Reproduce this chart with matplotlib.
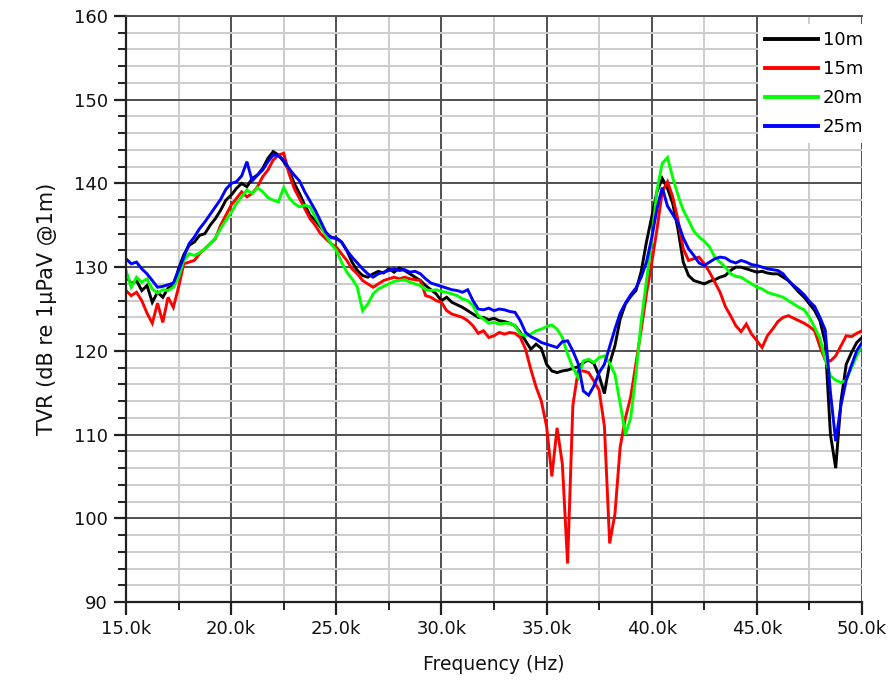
import numpy as np
import matplotlib
matplotlib.use("Agg")
import matplotlib.pyplot as plt
from matplotlib.ticker import MultipleLocator, FixedLocator

plt.rcParams['font.family'] = ['DejaVu Sans']

# frequency grid in kHz (0.25 kHz step)
freq_khz = np.arange(15.0, 50.0001, 0.25)

series_labels = ['10m', '15m', '20m', '25m']
series_colors = ['#000000', '#ff0000', '#00ff00', '#0000ff']

tvr_10m = [
    129.0, 128.0, 128.4, 127.2, 127.8, 125.8, 127.0, 126.4, 127.5, 127.8,
    129.8, 131.5, 132.6, 133.0, 133.8, 134.0, 135.0, 135.8, 136.8, 138.0,
    138.6, 139.4, 140.0, 139.6, 140.6, 141.0, 141.8, 143.0, 143.8, 143.4,
    142.6, 141.6, 140.0, 138.8, 137.4, 136.2, 135.6, 134.8, 134.0, 133.6,
    133.4, 133.0, 132.0, 130.6, 129.6, 129.0, 128.8, 129.2, 129.5, 129.3,
    129.8, 129.4, 129.9, 129.6, 129.2, 128.8, 128.4, 127.8, 127.3, 126.8,
    126.0, 126.4, 125.8, 125.5, 125.2, 124.8, 124.4, 124.0, 124.0, 123.7,
    123.9, 123.6, 123.5, 123.3, 123.0, 122.2, 121.2, 120.2, 120.8, 120.3,
    118.4, 117.6, 117.4, 117.6, 117.7, 117.9, 118.1, 118.6, 118.9, 118.5,
    117.0, 114.9, 118.5, 120.6, 123.8, 125.6, 126.5, 127.2, 129.5, 133.0,
    136.0, 139.0, 140.6, 139.4, 137.6, 134.5, 130.6, 129.0, 128.4, 128.2,
    128.0, 128.3, 128.5, 128.8, 129.0, 129.6, 130.0, 130.0, 129.8, 129.6,
    129.4, 129.5, 129.3, 129.2, 129.2, 128.8, 128.4, 127.7, 127.0, 126.4,
    125.6, 124.8, 123.6, 121.0, 110.0, 106.0, 114.0, 118.4, 119.8, 121.0,
    121.6]

tvr_15m = [
    127.2, 126.6, 127.0, 126.0, 124.5, 123.3, 125.7, 123.4, 126.4, 125.2,
    127.6, 130.4, 130.6, 130.8, 131.6, 132.2, 132.8, 133.4, 135.0, 136.2,
    137.4, 138.2, 139.0, 138.4, 138.8, 139.6, 140.8, 141.6, 142.8, 143.4,
    143.6, 141.2, 139.4, 138.2, 137.0, 135.8, 135.0, 134.0, 133.4, 132.8,
    132.4, 131.6, 130.8, 129.8, 129.2, 128.4, 128.0, 127.6, 128.0, 128.4,
    128.6, 128.8, 128.6, 128.8, 128.6, 128.5, 128.4, 126.6, 126.4, 126.0,
    125.8, 124.8, 124.4, 124.2, 124.0, 123.6, 123.0, 122.1, 122.4, 121.6,
    121.8, 122.2, 122.0, 122.2, 122.1, 121.6, 120.2, 117.8, 115.7, 114.0,
    111.0, 105.0, 110.8, 106.5, 94.6, 113.5, 117.6, 117.6, 117.4, 116.4,
    115.3, 111.0, 97.0, 100.5, 108.5, 112.0, 114.5, 118.5, 122.5, 126.8,
    130.5, 134.5, 139.0, 140.2, 138.4, 135.6, 132.2, 130.8, 131.0, 131.2,
    130.4, 129.4, 128.2, 127.0, 125.3, 124.2, 123.0, 122.3, 123.2, 122.0,
    121.2, 120.4, 121.8, 122.6, 123.5, 124.0, 124.2, 123.9, 123.6, 123.3,
    122.9, 122.4, 120.5, 118.9, 118.8, 119.4, 120.6, 121.8, 121.7, 122.1,
    122.4]

tvr_20m = [
    129.6, 127.6, 128.8, 128.2, 128.6, 127.4, 126.9, 127.3, 127.2, 127.6,
    128.8, 130.8, 131.6, 131.4, 131.7, 132.2, 132.8, 133.5, 134.6, 135.6,
    136.5, 137.6, 138.4, 139.2, 138.8, 139.5, 139.0, 138.3, 138.0, 137.8,
    139.5, 138.3, 137.6, 137.2, 137.4, 137.2, 136.0, 135.0, 133.8, 132.8,
    132.0, 130.6, 129.4, 128.6, 127.6, 124.8, 125.6, 126.8, 127.4, 127.7,
    128.0, 128.3, 128.4, 128.5, 128.2, 128.0, 127.8, 127.3, 127.2, 127.3,
    127.1, 127.0, 126.8, 126.6, 126.2, 126.0, 125.4, 124.2, 123.8, 123.3,
    123.4, 123.2, 123.3, 123.3, 123.0, 122.0, 121.8, 122.0, 122.4, 122.6,
    122.9, 123.1, 122.6, 121.6, 119.6, 118.0, 116.8, 118.8, 119.0, 118.6,
    119.2, 119.4, 118.5, 117.2, 113.7, 110.0, 112.0, 117.2, 123.5, 128.4,
    133.2, 139.2, 142.4, 143.1, 140.7, 138.6, 136.8, 135.6, 134.3, 133.6,
    133.1, 132.4, 131.2, 130.6, 130.0, 129.2, 128.9, 128.8, 128.4, 128.0,
    127.6, 127.4, 127.0, 126.8, 126.6, 126.4, 126.0, 125.6, 125.2, 124.9,
    124.0, 122.8, 121.5, 119.0, 117.0, 116.5, 116.2, 116.5, 118.0, 119.4,
    120.8]

tvr_25m = [
    131.0, 130.4, 130.6, 129.8, 129.2, 128.4, 127.6, 127.7, 127.9, 128.1,
    129.6, 131.2, 132.8, 133.6, 134.6, 135.4, 136.3, 137.2, 138.1, 139.3,
    140.0, 140.2, 140.9, 142.6, 140.3, 141.0, 141.6, 142.6, 143.4, 143.3,
    142.8, 141.8, 141.0, 140.3, 139.0, 137.9, 136.8, 135.5, 134.2, 133.5,
    133.5, 133.0, 132.0, 131.2, 130.5, 129.8, 129.2, 128.8, 129.2, 129.4,
    129.6, 129.8, 129.6, 129.7, 129.4, 129.5, 129.2, 128.6, 128.1, 127.9,
    127.7, 127.5, 127.3, 127.2, 127.0, 127.3, 126.0, 125.0, 124.9, 125.1,
    124.8, 125.0, 124.9, 124.7, 124.6, 123.6, 122.2, 121.7, 121.4, 121.0,
    120.8, 120.6, 120.4, 121.1, 121.2, 120.0, 118.5, 115.2, 114.7, 115.8,
    117.4, 118.4, 120.5, 122.6, 124.5, 125.7, 126.7, 127.5, 128.8, 130.6,
    133.5, 137.0, 139.5, 137.3, 136.3, 135.3, 133.5, 132.2, 131.4, 130.5,
    130.2, 130.6, 131.0, 131.2, 131.1, 130.7, 130.5, 130.8, 130.6, 130.3,
    130.2, 130.0, 129.8, 129.7, 129.6, 129.2, 128.4, 127.8, 127.3, 126.7,
    125.9, 125.3, 124.0, 122.5, 115.0, 109.2, 113.5, 116.5, 118.3, 120.0,
    121.0]

x_ticks = [15.0, 20.0, 25.0, 30.0, 35.0, 40.0, 45.0, 50.0]
x_ticklabels = ['15.0k', '20.0k', '25.0k', '30.0k', '35.0k', '40.0k', '45.0k', '50.0k']
y_ticks = [90, 100, 110, 120, 130, 140, 150, 160]

fig = plt.figure(figsize=(8.92, 6.89), dpi=100)
ax = fig.add_axes([126/892, 1-602/689, (862-126)/892, (602-16)/689])

for vals, lab, col in zip([tvr_10m, tvr_15m, tvr_20m, tvr_25m], series_labels, series_colors):
    ax.plot(freq_khz, vals, color=col, lw=2.1, label=lab, solid_joinstyle='miter')

ax.set_xlim(15, 50)
ax.set_ylim(90, 160)
ax.xaxis.set_major_locator(FixedLocator(x_ticks))
ax.set_xticklabels(x_ticklabels)
ax.xaxis.set_minor_locator(MultipleLocator(2.5))
ax.yaxis.set_major_locator(FixedLocator(y_ticks))
ax.yaxis.set_minor_locator(MultipleLocator(2))

ax.grid(which='major', color='#505050', lw=1.4)
ax.grid(which='minor', color='#cccccc', lw=1.4)
ax.set_axisbelow(True)

ax.spines['right'].set_visible(False)
ax.spines['top'].set_color('#505050')
ax.spines['top'].set_linewidth(1.4)
for s in ['left', 'bottom']:
    ax.spines[s].set_color('#202020')
    ax.spines[s].set_linewidth(1.6)

ax.tick_params(which='major', length=9, width=1.6, color='#202020', labelsize=13, pad=4, labelcolor='#111111')
ax.tick_params(which='minor', length=5.5, width=1.4, color='#202020')

ax.set_xlabel('Frequency (Hz)', fontsize=13.5, labelpad=12, color='#111111')
ax.set_ylabel('TVR (dB re 1µPaV @1m)', fontsize=15, labelpad=12, color='#111111')

leg = ax.legend(loc='upper right', bbox_to_anchor=(1.012, 0.986), borderaxespad=0.0,
                frameon=True, fancybox=False, framealpha=1, facecolor='white',
                edgecolor='none', fontsize=13, handlelength=2.9, handletextpad=0.3,
                labelspacing=0.6, borderpad=0.4)
for h in leg.get_lines():
    h.set_linewidth(2.8)

fig.savefig('out.png', dpi=100, facecolor='white')
